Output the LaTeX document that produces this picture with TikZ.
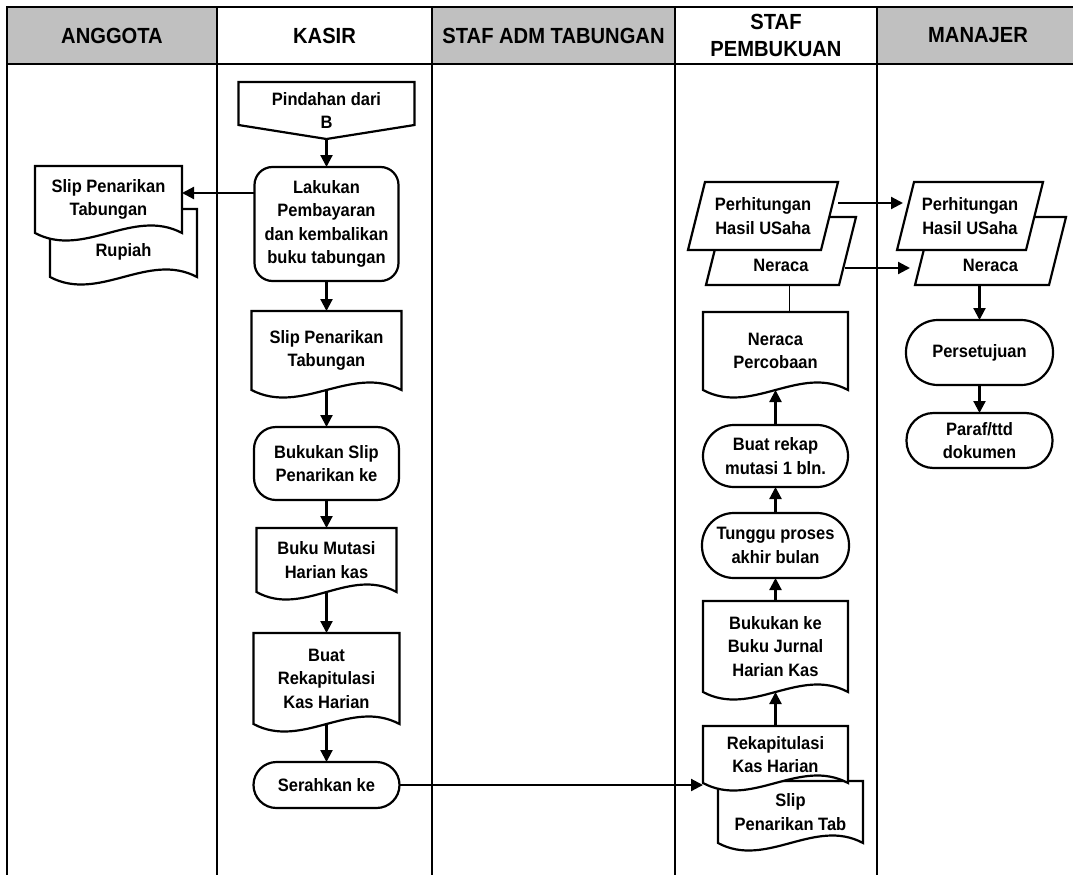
\documentclass[tikz,border=0pt]{standalone}
\usepackage{fontspec}
\setmainfont{Liberation Sans}[FakeStretch=0.92]
\usetikzlibrary{positioning}
\usetikzlibrary{arrows.meta}

\newdimen\shpL \newdimen\shpR \newdimen\shpT \newdimen\shpB \newdimen\shpW
\makeatletter
\def\boxanchors{%
  \inheritsavedanchors[from=rectangle]%
  \inheritanchorborder[from=rectangle]%
  \inheritanchor[from=rectangle]{center}%
  \inheritanchor[from=rectangle]{north}%
  \inheritanchor[from=rectangle]{south}%
  \inheritanchor[from=rectangle]{east}%
  \inheritanchor[from=rectangle]{west}%
  \inheritanchor[from=rectangle]{north east}%
  \inheritanchor[from=rectangle]{north west}%
  \inheritanchor[from=rectangle]{south east}%
  \inheritanchor[from=rectangle]{south west}%
}
% document symbol, wavy bottom
\pgfdeclareshape{docwave}{%
  \boxanchors
  \backgroundpath{%
    \southwest \shpL=\pgf@x \shpB=\pgf@y
    \northeast \shpR=\pgf@x \shpT=\pgf@y
    \shpW=\shpR \advance\shpW by -\shpL \shpW=0.3333\shpW
    \pgfpathmoveto{\pgfqpoint{\shpL}{\shpB}}%
    \pgfpathlineto{\pgfqpoint{\shpL}{\shpT}}%
    \pgfpathlineto{\pgfqpoint{\shpR}{\shpT}}%
    \pgfpathlineto{\pgfqpoint{\shpR}{\shpB}}%
    \pgfpathcurveto{\pgfpoint{\shpR-\shpW}{\shpB+26bp}}%
      {\pgfpoint{\shpL+\shpW}{\shpB-26bp}}{\pgfqpoint{\shpL}{\shpB}}%
    \pgfpathclose
  }%
}
% data symbol
\pgfdeclareshape{slantbox}{%
  \boxanchors
  \backgroundpath{%
    \southwest \shpL=\pgf@x \shpB=\pgf@y
    \northeast \shpR=\pgf@x \shpT=\pgf@y
    \pgfpathmoveto{\pgfpoint{\shpL+17bp}{\shpT}}%
    \pgfpathlineto{\pgfqpoint{\shpR}{\shpT}}%
    \pgfpathlineto{\pgfpoint{\shpR-17bp}{\shpB}}%
    \pgfpathlineto{\pgfqpoint{\shpL}{\shpB}}%
    \pgfpathclose
  }%
}
% off-page connector
\pgfdeclareshape{offpage}{%
  \boxanchors
  \backgroundpath{%
    \southwest \shpL=\pgf@x \shpB=\pgf@y
    \northeast \shpR=\pgf@x \shpT=\pgf@y
    \pgfpathmoveto{\pgfqpoint{\shpL}{\shpT}}%
    \pgfpathlineto{\pgfqpoint{\shpR}{\shpT}}%
    \pgfpathlineto{\pgfpoint{\shpR}{\shpB+14bp}}%
    \pgfpathlineto{\pgfpoint{0.5*\shpL+0.5*\shpR}{\shpB}}%
    \pgfpathlineto{\pgfpoint{\shpL}{\shpB+14bp}}%
    \pgfpathclose
  }%
}
\makeatother

\definecolor{headgray}{RGB}{192,192,192}
\tikzset{>={Triangle[length=12bp,width=12bp]}}
\tikzset{lanehead/.style={draw, line width=2.5bp, minimum height=57bp, inner sep=0pt, outer sep=0pt,
    align=center, font=\fontsize{22}{27}\selectfont\bfseries}}
\tikzset{laneline/.style={line width=2.5bp}}
\tikzset{flowbox/.style={draw, line width=2.2bp, fill=white, inner sep=2bp, outer sep=0pt,
    align=center, font=\fontsize{18}{23.5}\selectfont\bfseries}}
\tikzset{proc/.style={flowbox, rectangle, rounded corners=#1}}
\tikzset{docnode/.style={flowbox, shape=docwave}}
\tikzset{datanode/.style={flowbox, shape=slantbox}}
\tikzset{pagenode/.style={flowbox, shape=offpage}}
\tikzset{flowline/.style={->, line width=2.2bp}}

\begin{document}
\begin{tikzpicture}[x=1bp, y=-1bp]
\useasboundingbox (0,0) rectangle (1073,875);
\coordinate (bottom) at (0,875);

% lanes
\node[lanehead, fill=headgray, minimum width=210bp] (hAng) at (112,35.5) {ANGGOTA};
\node[lanehead, minimum width=215bp] (hKas) [right=0bp of hAng] {KASIR};
\node[lanehead, fill=headgray, minimum width=243bp] (hAdm) [right=0bp of hKas] {STAF ADM TABUNGAN};
\node[lanehead, minimum width=202bp] (hPem) [right=0bp of hAdm] {STAF\\PEMBUKUAN};
\node[lanehead, fill=headgray, minimum width=202bp] (hMan) [right=0bp of hPem] {MANAJER};
\foreach \h in {hAng,hKas,hAdm,hPem,hMan}
  \draw[laneline] (\h.south west) -- (\h.south west |- bottom);

% anggota
\node[docnode, minimum width=147bp, minimum height=68bp, text height=30bp, text depth=4bp]
  (slipRp) at (123.5,243) {Rupiah};
\node[docnode, minimum width=147bp, minimum height=67bp] (slipAg) at (108.5,199.5) {Slip Penarikan\\Tabungan};

% kasir
\node[pagenode, minimum width=176bp, minimum height=57bp] (pindah) at (326.5,110.5) {Pindahan dari\\B};
\node[proc=18bp, minimum width=144bp, minimum height=114bp] (bayar) [below=28bp of pindah]
  {Lakukan\\Pembayaran\\dan kembalikan\\buku tabungan};
\node[docnode, minimum width=150bp, minimum height=79bp] (slipKs) [below=30bp of bayar] {Slip Penarikan\\Tabungan};
\node[proc=22bp, minimum width=145bp, minimum height=73bp] (bukuSlip) [below=37bp of slipKs] {Bukukan Slip\\Penarikan ke};
\node[docnode, minimum width=140bp, minimum height=64bp] (mutasi) [below=28bp of bukuSlip] {Buku Mutasi\\Harian kas};
\node[docnode, minimum width=146bp, minimum height=91bp] (rekapKs) [below=41bp of mutasi] {Buat\\Rekapitulasi\\Kas Harian};
\node[proc=23bp, minimum width=146bp, minimum height=46bp] (serah) [below=38bp of rekapKs] {Serahkan ke};

% staf pembukuan
\node[datanode, minimum width=150bp, minimum height=68bp, text height=40bp, text depth=0bp]
  (neracaSt) at (781,251) {Neraca};
\node[datanode, minimum width=150bp, minimum height=68bp] (phuSt) at (763,216) {Perhitungan\\Hasil USaha};
\node[docnode, minimum width=145bp, minimum height=62bp] (slipTab) at (790.5,812) {Slip\\Penarikan Tab};
\node[docnode, minimum width=145bp, minimum height=57bp] (rekapSt) at (775.5,754.5) {Rekapitulasi\\Kas Harian};
\node[docnode, minimum width=145bp, minimum height=91bp] (jurnal) [above=34bp of rekapSt] {Bukukan ke\\Buku Jurnal\\Harian Kas};
\node[proc=32bp, minimum width=147bp, minimum height=65bp] (tunggu) [above=23bp of jurnal] {Tunggu proses\\akhir bulan};
\node[proc=31bp, minimum width=145bp, minimum height=62bp] (rekap1) [above=26bp of tunggu] {Buat rekap\\mutasi 1 bln.};
\node[docnode, minimum width=145bp, minimum height=78bp] (percob) [above=35bp of rekap1] {Neraca\\Percobaan};

% manajer
\node[datanode, minimum width=151bp, minimum height=68bp, text height=40bp, text depth=0bp]
  (neracaMj) at (990.5,251) {Neraca};
\node[datanode, minimum width=146bp, minimum height=68bp] (phuMj) at (970,216) {Perhitungan\\Hasil USaha};
\node[proc=32bp, minimum width=147bp, minimum height=65bp] (setuju) at (979.5,352.5) {Persetujuan};
\node[proc=27bp, minimum width=146bp, minimum height=55bp] (paraf) [below=28bp of setuju] {Paraf/ttd\\dokumen};

% flow
\draw[flowline] (pindah.south) -- (bayar.north);
\draw[flowline] ([yshift=31bp]bayar.west) -- ([yshift=31bp]bayar.west -| slipAg.east);
\draw[flowline] (bayar.south) -- (slipKs.north);
\draw[flowline] (slipKs.south) -- (bukuSlip.north);
\draw[flowline] (bukuSlip.south) -- (mutasi.north);
\draw[flowline] (mutasi.south) -- (rekapKs.north);
\draw[flowline] (rekapKs.south) -- (serah.north);
\draw[flowline] (serah.east) -- (serah.east -| rekapSt.west);

\draw[flowline] (rekapSt.north) -- (jurnal.south);
\draw[flowline] (jurnal.north) -- (tunggu.south);
\draw[flowline] (tunggu.north) -- (rekap1.south);
\draw[flowline] (rekap1.north) -- (percob.south);
\draw[line width=1.8bp] ([xshift=14bp]percob.north) -- ([xshift=14bp]percob.north |- neracaSt.south);

\draw[flowline] ([yshift=13bp]phuSt.east) -- ([yshift=13bp, xshift=6bp]phuSt.east -| phuMj.west);
\draw[flowline] ([yshift=-17bp, xshift=-11bp]neracaSt.east) -- ([yshift=-17bp, xshift=-5bp]neracaSt.east -| neracaMj.west);
\draw[flowline] (setuju.north |- neracaMj.south) -- (setuju.north);
\draw[flowline] (setuju.south) -- (paraf.north);
\end{tikzpicture}
\end{document}
